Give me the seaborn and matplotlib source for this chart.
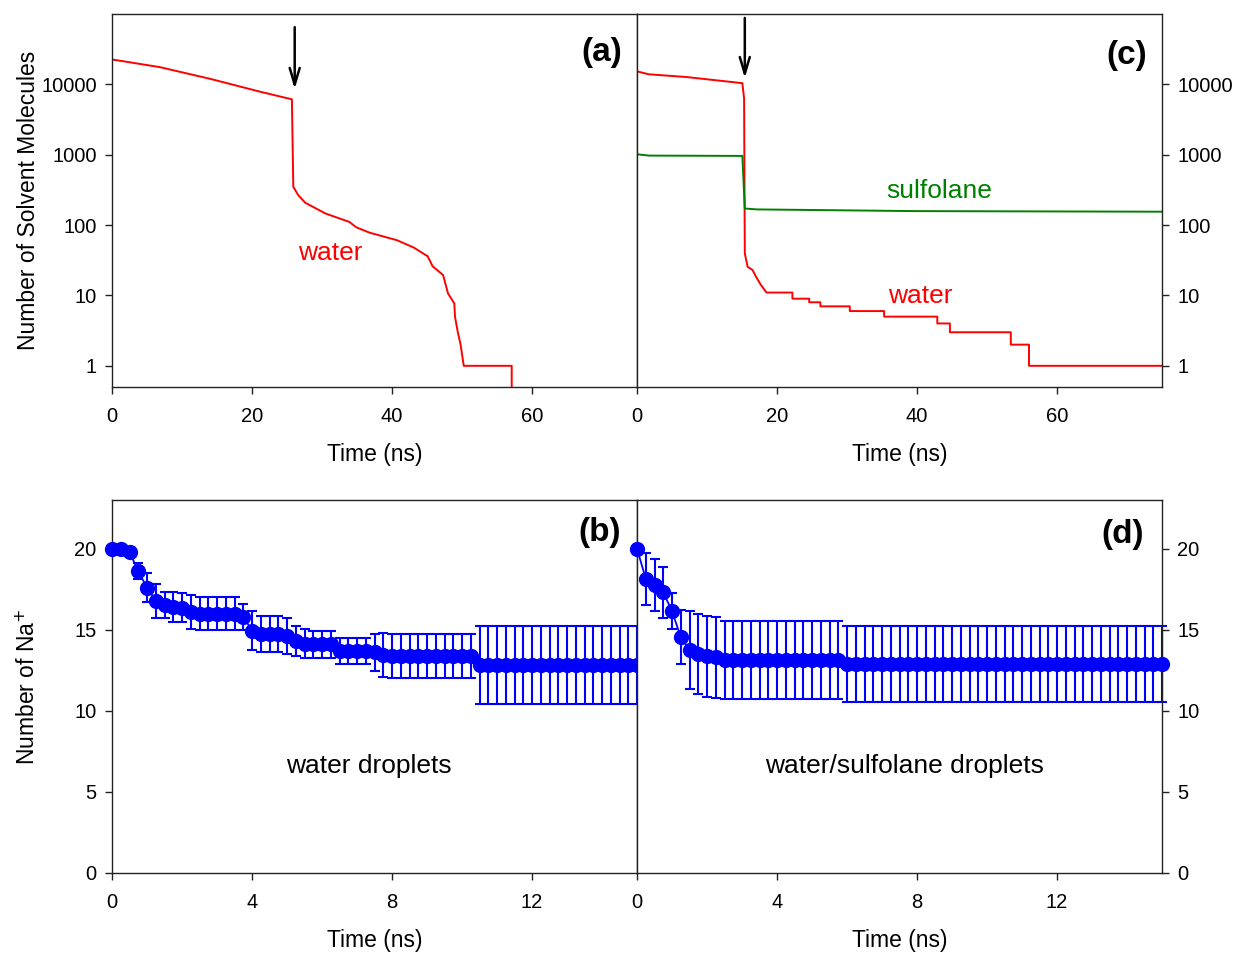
import numpy as np
import matplotlib
matplotlib.use("Agg")
import matplotlib.pyplot as plt
import seaborn as sns

# ---------------- data ----------------
# (a) water droplet: number of water molecules vs time (ns)
a_water_t = [0, 6.8, 14.0, 21.3, 25.7, 25.9, 26.6, 27.6, 30.5, 33.9, 34.9, 36.8,
             40.7, 43.1, 45.1, 45.8, 47.3, 48.0, 48.9, 49.0, 49.4, 49.8, 50.25,
             57.1, 57.1]
a_water_n = [22600, 17600, 12000, 7800, 6130, 350, 267, 208, 146, 111, 93, 78,
             61, 48, 36, 26, 19.5, 10.7, 7.7, 5, 3, 2, 1,
             1, 0]

# (c) water/sulfolane droplet
c_water_t = [0, 1.7, 7.1, 15.05, 15.3, 15.4, 15.8, 16.5, 17.0, 17.7, 18.5,
             22.2, 22.2, 24.6, 24.6, 26.2, 26.2, 30.4, 30.4, 35.3, 35.3,
             42.9, 42.9, 44.7, 44.7, 53.4, 53.4, 56.0, 56.0, 75]
c_water_n = [15300, 13900, 12700, 10400, 6270, 39.6, 25.6, 23, 18.5, 14.1, 11,
             11, 9, 9, 8, 8, 7, 7, 6, 6, 5,
             5, 4, 4, 3, 3, 2, 2, 1, 1]
c_sulf_t = [0, 1.7, 15.05, 15.4, 17.2, 40, 75]
c_sulf_n = [1016, 972, 962, 172, 167, 158, 155]

# (b), (d) number of Na+ vs time (ns), sampled every 0.25 ns
na_t = np.arange(0, 15.001, 0.25)
b_na = [20.0, 20.0, 19.8, 18.6, 17.6, 16.8, 16.55, 16.4, 16.35, 16.1,
        16.0, 16.0, 16.0, 16.0, 16.0, 15.8, 14.95, 14.75, 14.75, 14.75,
        14.6, 14.3, 14.15, 14.1, 14.1, 14.1, 13.7, 13.7, 13.7, 13.7,
        13.6, 13.45,
        13.4, 13.4, 13.4, 13.4, 13.4, 13.4, 13.4, 13.4, 13.4, 13.4,
        12.8, 12.8, 12.8, 12.8, 12.8, 12.8, 12.8, 12.8, 12.8, 12.8,
        12.8, 12.8, 12.8, 12.8, 12.8, 12.8, 12.8, 12.8, 12.8]
b_err = [0.0, 0.0, 0.2, 0.5, 0.9, 1.05, 0.8, 0.9, 0.9, 1.05,
         1.0, 1.0, 1.0, 1.0, 1.0, 0.8, 1.2, 1.1, 1.1, 1.1,
         1.1, 0.95, 0.9, 0.85, 0.85, 0.85, 0.8, 0.8, 0.8, 0.8,
         1.15, 1.35,
         1.35, 1.35, 1.35, 1.35, 1.35, 1.35, 1.35, 1.35, 1.35, 1.35,
         2.4, 2.4, 2.4, 2.4, 2.4, 2.4, 2.4, 2.4, 2.4, 2.4,
         2.4, 2.4, 2.4, 2.4, 2.4, 2.4, 2.4, 2.4, 2.4]
d_na = [20.0, 18.15, 17.75, 17.3, 16.15, 14.55, 13.75, 13.5, 13.35, 13.3,
        13.15, 13.15, 13.15, 13.15, 13.15, 13.15, 13.15, 13.15, 13.15, 13.15,
        13.15, 13.15, 13.15, 13.15,
        12.9, 12.9, 12.9, 12.9, 12.9, 12.9, 12.9, 12.9, 12.9, 12.9,
        12.9, 12.9, 12.9, 12.9, 12.9, 12.9, 12.9, 12.9, 12.9, 12.9,
        12.9, 12.9, 12.9, 12.9, 12.9, 12.9, 12.9, 12.9, 12.9, 12.9,
        12.9, 12.9, 12.9, 12.9, 12.9, 12.9, 12.9]
d_err = [0.0, 1.6, 1.6, 1.55, 1.1, 1.65, 2.4, 2.45, 2.5, 2.5,
         2.4, 2.4, 2.4, 2.4, 2.4, 2.4, 2.4, 2.4, 2.4, 2.4,
         2.4, 2.4, 2.4, 2.4,
         2.35, 2.35, 2.35, 2.35, 2.35, 2.35, 2.35, 2.35, 2.35, 2.35,
         2.35, 2.35, 2.35, 2.35, 2.35, 2.35, 2.35, 2.35, 2.35, 2.35,
         2.35, 2.35, 2.35, 2.35, 2.35, 2.35, 2.35, 2.35, 2.35, 2.35,
         2.35, 2.35, 2.35, 2.35, 2.35, 2.35, 2.35]

log_ticks = [1, 10, 100, 1000, 10000]
log_tick_labels = ["1", "10", "100", "1000", "10000"]
top_xticks = [0, 20, 40, 60]
bot_xticks = [0, 4, 8, 12]
bot_yticks = [0, 5, 10, 15, 20]

# ---------------- style ----------------
sns.set_theme(style="ticks")
plt.rcParams["font.family"] = ["Liberation Sans", "DejaVu Sans"]
plt.rcParams["text.color"] = "black"
plt.rcParams["axes.labelcolor"] = "black"
plt.rcParams["axes.linewidth"] = 1.0
plt.rcParams["axes.edgecolor"] = "#222222"
plt.rcParams["xtick.color"] = "#222222"
plt.rcParams["ytick.color"] = "#222222"
plt.rcParams["xtick.labelcolor"] = "black"
plt.rcParams["ytick.labelcolor"] = "black"

fig = plt.figure(figsize=(12.4, 9.56), dpi=100)
W, H = 1240, 956
def box(x0, y0, x1, y1):
    return [x0 / W, 1 - y1 / H, (x1 - x0) / W, (y1 - y0) / H]

ax_a = fig.add_axes(box(112, 14, 637, 387))
ax_c = fig.add_axes(box(637, 14, 1162, 387))
ax_b = fig.add_axes(box(112, 500, 637, 873))
ax_d = fig.add_axes(box(637, 500, 1162, 873))

TICK_FS = 14.5
LABEL_FS = 16.5
ANN_FS = 19
PANEL_FS = 24

for ax in (ax_a, ax_b, ax_c, ax_d):
    for s in ax.spines.values():
        s.set_visible(True)
        s.set_linewidth(1.0)
        s.set_color("#222222")
    ax.tick_params(direction="out", length=5, width=1, labelsize=TICK_FS, pad=6,
                   labelcolor="black")
    ax.tick_params(axis="x", pad=9.5)
    ax.set_facecolor("white")

# ---------------- top panels ----------------
sns.lineplot(x=a_water_t, y=a_water_n, ax=ax_a, color="#ff0000", linewidth=1.4,
             estimator=None, sort=False)
sns.lineplot(x=c_water_t, y=c_water_n, ax=ax_c, color="#ff0000", linewidth=1.4,
             estimator=None, sort=False)
sns.lineplot(x=c_sulf_t, y=c_sulf_n, ax=ax_c, color="#008000", linewidth=1.4,
             estimator=None, sort=False)

for ax in (ax_a, ax_c):
    ax.set_yscale("log")
    ax.set_xlim(0, 75)
    ax.set_ylim(0.5, 1e5)
    ax.set_yticks(log_ticks)
    ax.set_yticklabels(log_tick_labels)
    ax.yaxis.set_minor_locator(matplotlib.ticker.NullLocator())
    ax.set_xticks(top_xticks)
    ax.set_xlabel("Time (ns)", fontsize=LABEL_FS, labelpad=12, color="black")
    ax.set_ylabel("")

ax_c.yaxis.tick_right()
ax_a.set_ylabel("Number of Solvent Molecules", fontsize=LABEL_FS, color="black")
ax_a.yaxis.set_label_coords(-0.137, 0.5)

ax_a.text(31.2, 32, "water", color="#ff0000", fontsize=ANN_FS, ha="center", va="baseline")
ax_c.text(40.4, 7.8, "water", color="#ff0000", fontsize=ANN_FS, ha="center", va="baseline")
ax_c.text(43.2, 240, "sulfolane", color="#008000", fontsize=ANN_FS, ha="center", va="baseline")

arrow = dict(arrowstyle="->,head_length=1.0,head_width=0.3", color="black", lw=1.8,
             shrinkA=0, shrinkB=0)
ax_a.annotate("", xy=(26.1, 8600), xytext=(26.1, 65000), arrowprops=arrow)
ax_c.annotate("", xy=(15.4, 12300), xytext=(15.4, 88000), arrowprops=arrow)

ax_a.text(0.972, 0.898, "(a)", transform=ax_a.transAxes, fontsize=PANEL_FS,
          fontweight="bold", ha="right", va="center", color="black")
ax_c.text(0.972, 0.89, "(c)", transform=ax_c.transAxes, fontsize=PANEL_FS,
          fontweight="bold", ha="right", va="center", color="black")

# ---------------- bottom panels ----------------
for ax, vals, errs in ((ax_b, b_na, b_err), (ax_d, d_na, d_err)):
    ax.errorbar(na_t, vals, yerr=errs, fmt="none", ecolor="#0000ff",
                elinewidth=1.5, capsize=3.5, capthick=1.5, zorder=2, clip_on=False)
    sns.lineplot(x=na_t, y=vals, ax=ax, color="#0000ff", linewidth=1.3,
                 marker="o", markersize=11, markeredgewidth=0,
                 estimator=None, sort=False, clip_on=False, zorder=3)
    ax.set_xlim(0, 15)
    ax.set_ylim(0, 23)
    ax.set_xticks(bot_xticks)
    ax.set_yticks(bot_yticks)
    ax.set_xlabel("Time (ns)", fontsize=LABEL_FS, labelpad=12, color="black")
    ax.set_ylabel("")

ax_d.yaxis.tick_right()
ax_b.set_ylabel("Number of Na$^{+}$", fontsize=LABEL_FS, color="black")
ax_b.yaxis.set_label_coords(-0.137, 0.5)

ax_b.text(7.34, 6.6, "water droplets", fontsize=ANN_FS, ha="center", va="center")
ax_d.text(7.63, 6.6, "water/sulfolane droplets", fontsize=ANN_FS, ha="center", va="center")

ax_b.text(0.97, 0.912, "(b)", transform=ax_b.transAxes, fontsize=PANEL_FS,
          fontweight="bold", ha="right", va="center")
ax_d.text(0.965, 0.908, "(d)", transform=ax_d.transAxes, fontsize=PANEL_FS,
          fontweight="bold", ha="right", va="center")

fig.savefig("out.png", dpi=100, facecolor="white")
